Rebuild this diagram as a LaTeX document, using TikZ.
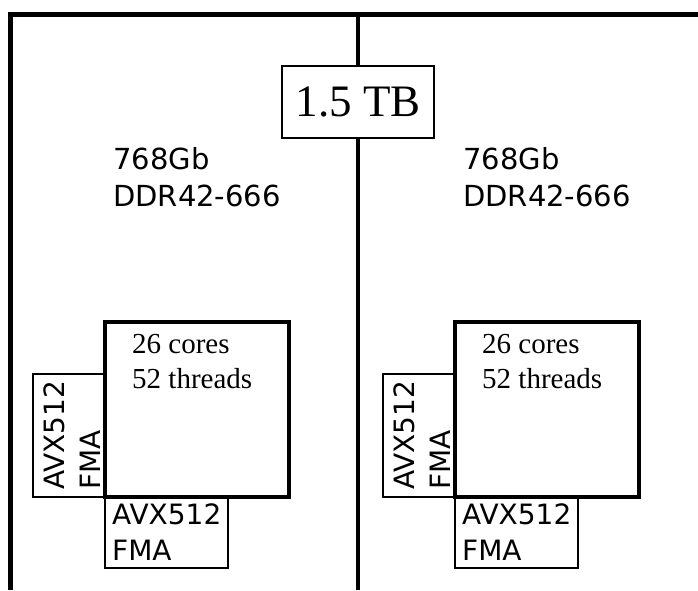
\documentclass[tikz,border=0pt]{standalone}
\usepackage{fontspec}
\setmainfont{Liberation Serif}
\newfontfamily\dejavu{DejaVu Sans}
\usetikzlibrary{positioning}

\begin{document}
\begin{tikzpicture}[x=1pt,y=-1pt,
  unitbox/.style={draw, line width=1.8pt, fill=white, inner sep=0pt},
  corebox/.style={draw, line width=3.5pt, inner sep=0pt, minimum width=184pt, minimum height=175pt},
  sans/.style={font=\dejavu\fontsize{28}{36}\selectfont, align=left, inner sep=0pt},
  serif/.style={font=\fontsize{29}{35}\selectfont, align=left, inner sep=0pt}]
\useasboundingbox (0,0) rectangle (698,590);

% Frame
\draw[line width=5pt] (10,590) -- (10,14) -- (698,14);

% Total memory
\node[draw, line width=1.2pt, minimum width=152pt, minimum height=72pt, fill=white,
      font=\fontsize{45}{54}\selectfont] (tb) at (358,102) {1.5 TB};
\draw[line width=4pt] (358,14) -- (tb.north);
\draw[line width=4pt] (tb.south) -- (358,590);

% Left socket
\node[sans, anchor=base west, font=\dejavu\fontsize{29}{37}\selectfont] (memL) at (113,206) {768Gb\\DDR42-666};
\node[unitbox, minimum width=72pt, minimum height=123pt] (avxL) at (69,435.5) {};
\node[unitbox, minimum width=123pt, minimum height=71pt] (avxbL) at (166.5,532.5) {};
\node[corebox] (coreL) at (197,409.5) {};
\node[serif, anchor=base west] (thrL) at (132,388) {26 cores\\52 threads};
\node[sans, rotate=90, anchor=base west] (avxtL) at (100,490) {AVX512\\FMA};
\node[sans, anchor=base west] (avxbtL) at (112,560) {AVX512\\FMA};

% Right socket
\node[sans, anchor=base west, font=\dejavu\fontsize{29}{37}\selectfont] (memR) at (463,206) {768Gb\\DDR42-666};
\node[unitbox, minimum width=72pt, minimum height=123pt] (avxR) at (419,435.5) {};
\node[unitbox, minimum width=123pt, minimum height=71pt] (avxbR) at (516.5,532.5) {};
\node[corebox] (coreR) at (547,409.5) {};
\node[serif, anchor=base west] (thrR) at (482,388) {26 cores\\52 threads};
\node[sans, rotate=90, anchor=base west] (avxtR) at (450,490) {AVX512\\FMA};
\node[sans, anchor=base west] (avxbtR) at (462,560) {AVX512\\FMA};
\end{tikzpicture}
\end{document}
